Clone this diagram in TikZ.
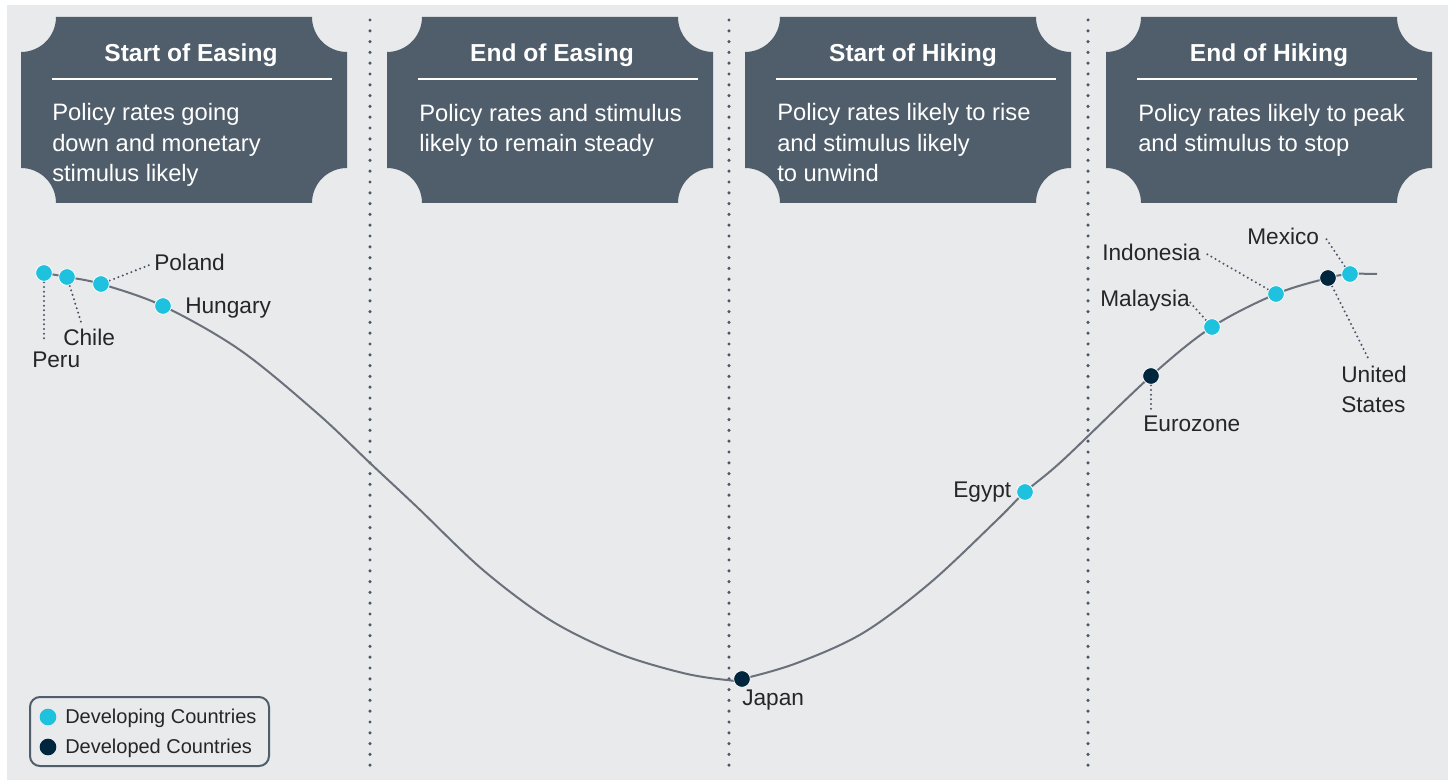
\documentclass[tikz,border=0pt]{standalone}
\usepackage{fontspec}
\setmainfont{Liberation Sans}
\definecolor{bg}{HTML}{E9EAEC}
\definecolor{boxc}{HTML}{505E6C}
\definecolor{devg}{HTML}{1EC1DE}
\definecolor{devd}{HTML}{00263E}
\definecolor{curvec}{HTML}{6A717B}
\definecolor{dotc}{HTML}{4B5667}
\definecolor{txt}{HTML}{262626}
\newcommand\notchbox[2]{%
  \fill[boxc] (#1+35,-17) -- (#2-35,-17) arc[start angle=180,end angle=270,radius=35]
    -- (#2,-168) arc[start angle=90,end angle=180,radius=35]
    -- (#1+35,-203) arc[start angle=0,end angle=90,radius=35]
    -- (#1,-52) arc[start angle=270,end angle=360,radius=35] -- cycle;
  \draw[white, line width=1.5pt] (#1+31,-79) -- (#1+311,-79);}
\begin{document}
\begin{tikzpicture}[x=0.75pt,y=0.75pt,
  head/.style={text=white, font=\fontsize{18.4}{22}\selectfont\bfseries, anchor=base, inner sep=0pt},
  body/.style={text=white, font=\fontsize{17.8}{22.9}\selectfont, anchor=base west, inner sep=0pt, align=left},
  lbl/.style={text=txt, font=\fontsize{17}{22.5}\selectfont, anchor=base west, inner sep=0pt},
  leg/.style={text=txt, font=\fontsize{15}{18}\selectfont, anchor=base west, inner sep=0pt},
  dev/.style={circle, fill=devg, draw=white, line width=0.6pt, minimum size=12.5pt, inner sep=0pt},
  dvd/.style={circle, fill=devd, draw=white, line width=0.6pt, minimum size=12.5pt, inner sep=0pt},
  divider/.style={dotc, line width=2.6pt, line cap=round, dash pattern=on 0pt off 8.1pt},
  leader/.style={dotc, line width=1.7pt, line cap=round, dash pattern=on 0pt off 3.5pt},
]
\useasboundingbox (0,0) rectangle (1448,-780);
\fill[white] (0,0) rectangle (1448,-780);
\fill[bg] (7,-5) rectangle (1448,-780);

% dividers
\draw[divider] (370,-20) -- (370,-770);
\draw[divider] (729,-20) -- (729,-770);
\draw[divider] (1088,-20) -- (1088,-770);

% phase boxes
\notchbox{21}{347}
\notchbox{387}{713}
\notchbox{745}{1071}
\notchbox{1106}{1432}
\node[head] (h1) at (191,-62) {Start of Easing};
\node[head] (h2) at (552,-62) {End of Easing};
\node[head] (h3) at (913,-62) {Start of Hiking};
\node[head] (h4) at (1269,-62) {End of Hiking};
\node[body] (b1) at (52,-182) {Policy rates going\\down and monetary\\stimulus likely};
\node[body] (b2) at (419,-152) {Policy rates and stimulus\\likely to remain steady};
\node[body] (b3) at (777,-182) {Policy rates likely to rise\\and stimulus likely\\to unwind};
\node[body] (b4) at (1138,-152) {Policy rates likely to peak\\and stimulus to stop};

% points on the curve
\coordinate (peru) at (44,-273);
\coordinate (chile) at (67,-277);
\coordinate (poland) at (101,-284);
\coordinate (hungary) at (163,-306);
\coordinate (japan) at (742,-679);
\coordinate (egypt) at (1025,-492);
\coordinate (euro) at (1151,-376);
\coordinate (malaysia) at (1212,-327);
\coordinate (indonesia) at (1276,-294);
\coordinate (us) at (1328,-278);
\coordinate (mexico) at (1350,-274);
\coordinate (cend) at (1377,-274);

\draw[curvec, line width=1.5pt] plot[smooth, tension=0.55] coordinates {
  (peru) (chile) (poland) (hungary) (240,-350) (317,-413) (370,-463) (417,-507)
  (483,-570) (550,-620) (617,-653) (683,-673) (727,-680) (japan) (797,-663) (863,-633)
  (930,-583) (997,-520) (egypt) (1063,-460) (euro) (malaysia) (indonesia) (us) (mexico) (cend)};

% leader ends
\coordinate (perul) at (44,-340);
\coordinate (chilel) at (81,-322);
\coordinate (polandl) at (152,-264);
\coordinate (indonesial) at (1205,-253);
\coordinate (malaysial) at (1188,-300);
\coordinate (mexicol) at (1325,-237);
\coordinate (usl) at (1368,-358);
\coordinate (eurol) at (1151,-412);
\draw[leader] (peru) -- (perul);
\draw[leader] (chile) -- (chilel);
\draw[leader] (poland) -- (polandl);
\draw[leader] (indonesia) -- (indonesial);
\draw[leader] (malaysia) -- (malaysial);
\draw[leader] (mexico) -- (mexicol);
\draw[leader] (us) -- (usl);
\draw[leader] (euro) -- (eurol);

% dots
\node[dev] (dperu) at (peru) {};
\node[dev] (dchile) at (chile) {};
\node[dev] (dpoland) at (poland) {};
\node[dev] (dhungary) at (hungary) {};
\node[dvd] (djapan) at (japan) {};
\node[dev] (degypt) at (egypt) {};
\node[dvd] (deuro) at (euro) {};
\node[dev] (dmalaysia) at (malaysia) {};
\node[dev] (dindonesia) at (indonesia) {};
\node[dvd] (dus) at (us) {};
\node[dev] (dmexico) at (mexico) {};

% labels
\node[lbl] (lperu) at (32,-367) {Peru};
\node[lbl] (lchile) at (63,-345) {Chile};
\node[lbl] (lpoland) at (154,-271) {Poland};
\node[lbl] (lhungary) at (185,-314) {Hungary};
\node[lbl] (lindonesia) at (1102,-261) {Indonesia};
\node[lbl] (lmalaysia) at (1100,-307) {Malaysia};
\node[lbl] (lmexico) at (1247,-245) {Mexico};
\node[lbl, align=left] (lus) at (1341,-412) {United\\States};
\node[lbl] (leuro) at (1143,-431) {Eurozone};
\node[lbl] (legypt) at (953,-497) {Egypt};
\node[lbl] (ljapan) at (742,-705) {Japan};

% legend
\node[draw=boxc, line width=1.5pt, rounded corners=7.5pt, minimum width=179.25pt, minimum height=51.75pt, inner sep=0pt] (legend) at (149.5,-731.5) {};
\node[dev, draw=none] (ldev) at (48,-717) {};
\node[dvd, draw=none] (ldvd) at (48,-747) {};
\node[leg] (tdev) at (65,-723) {Developing Countries};
\node[leg] (tdvd) at (65,-753) {Developed Countries};
\end{tikzpicture}
\end{document}
